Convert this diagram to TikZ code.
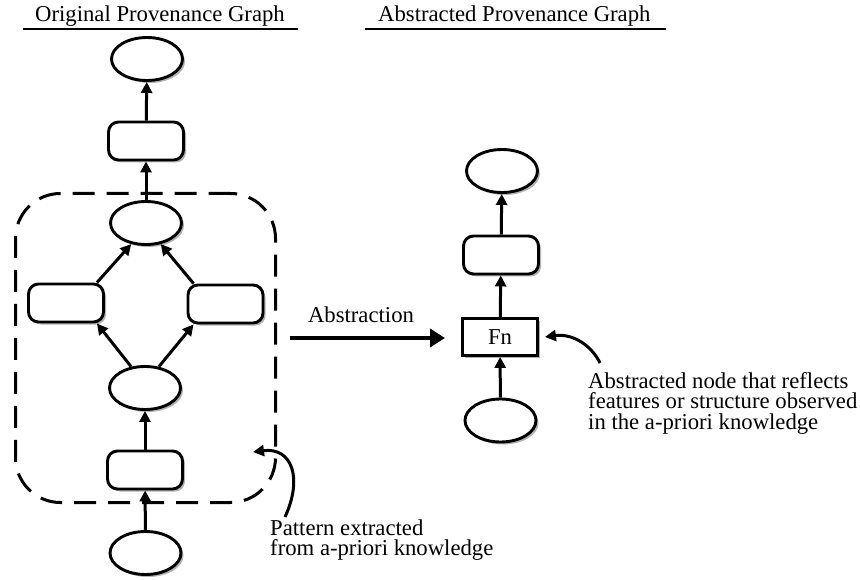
\documentclass[tikz,border=0pt]{standalone}
\usepackage{fontspec}
\setmainfont{Liberation Serif}
\usetikzlibrary{shapes.geometric,shadows,arrows.meta,calc}
\begin{document}
\begin{tikzpicture}[x=1pt,y=-1pt,
  every node/.style={font=\fontsize{22.7}{20.5}\selectfont},
  soft shadow/.style={drop shadow={shadow xshift=2.5pt,shadow yshift=-2.5pt,opacity=0.3,fill=black}},
  procbox/.style={rectangle,draw,line width=2.9pt,fill=white,rounded corners=10pt,
    minimum width=75pt,minimum height=38pt,inner sep=0pt,soft shadow},
  artifact/.style={ellipse,draw,line width=2.9pt,fill=white,
    minimum width=71pt,minimum height=43pt,inner sep=0pt,soft shadow},
  fnbox/.style={rectangle,draw,line width=2.9pt,fill=white,
    minimum width=75pt,minimum height=37pt,inner sep=0pt,soft shadow},
  conn/.style={line width=3pt,-{Triangle[length=11pt,width=11pt]}},
  bigconn/.style={line width=4.5pt,-{Triangle[length=15pt,width=18pt]}},
  plain/.style={inner sep=0pt},
]
\useasboundingbox (0,0) rectangle (860,580);

% headings
\node[plain,anchor=base west] (t1) at (35,22) {Original Provenance Graph};
\draw[line width=2.4pt] ($(t1.base west)+(-12,7)$) -- ($(t1.base east)+(13,7)$);
\node[plain,anchor=base west] (t2) at (378,22) {Abstracted Provenance Graph};
\draw[line width=2.4pt] ($(t2.base west)+(-13,7)$) -- ($(t2.base east)+(15,7)$);

% extracted pattern outline
\node[draw,line width=3pt,dash pattern=on 22pt off 12pt,rounded corners=45pt,
  minimum width=260pt,minimum height=309pt,inner sep=0pt] (pattern) at (145.5,348) {};

% original graph
\node[artifact] (o1) at (147,59) {};
\node[procbox]  (o2) at (146,141) {};
\node[artifact] (o3) at (146,223) {};
\node[procbox]  (o4l) at (66,303) {};
\node[procbox]  (o4r) at (225.5,304) {};
\node[artifact] (o5) at (145,388) {};
\node[procbox]  (o6) at (145,470) {};
\node[artifact] (o7) at (145.5,553) {};

\draw[conn] (o7) -- (o6);
\draw[conn] (o6) -- (o5);
\draw[conn] (o5.123) -- ([xshift=-8pt]o4l.south east);
\draw[conn] (o5.57) -- ([xshift=7pt]o4r.south west);
\draw[conn] ([xshift=-8pt]o4l.north east) -- (o3.235);
\draw[conn] ([xshift=7pt]o4r.north west) -- (o3.305);
\draw[conn] (o3) -- (o2);
\draw[conn] (o2) -- (o1);

% abstracted graph
\node[artifact] (a1) at (502,171) {};
\node[procbox]  (a2) at (501,255) {};
\node[fnbox]    (fn) at (500,337) {Fn};
\node[artifact] (a4) at (500.5,420.5) {};

\draw[conn] (a4) -- (fn);
\draw[conn] (fn) -- (a2);
\draw[conn] (a2) -- (a1);

% abstraction step
\coordinate (absstart) at (290,338);
\coordinate (absend) at (445,338);
\draw[bigconn] (absstart) -- (absend);
\node[plain,anchor=base] (abslabel) at (361,323) {Abstraction};

% annotations
\node[plain,anchor=north west,align=left] (note1) at (588,372)
  {Abstracted node that reflects\\features or structure observed\\in the a-priori knowledge};
\coordinate (note1tail) at (600,363);
\draw[conn] (note1tail) .. controls (593,348) and (575,333) .. ([xshift=6pt]fn.east);

\node[plain,anchor=north west,align=left] (note2) at (270,519.5)
  {Pattern extracted\\from a-priori knowledge};
\coordinate (note2tail) at (285,517);
\coordinate (patterntip) at (253,452);
\draw[conn] (note2tail) .. controls (303,478) and (292,447) .. (patterntip);
\end{tikzpicture}
\end{document}
